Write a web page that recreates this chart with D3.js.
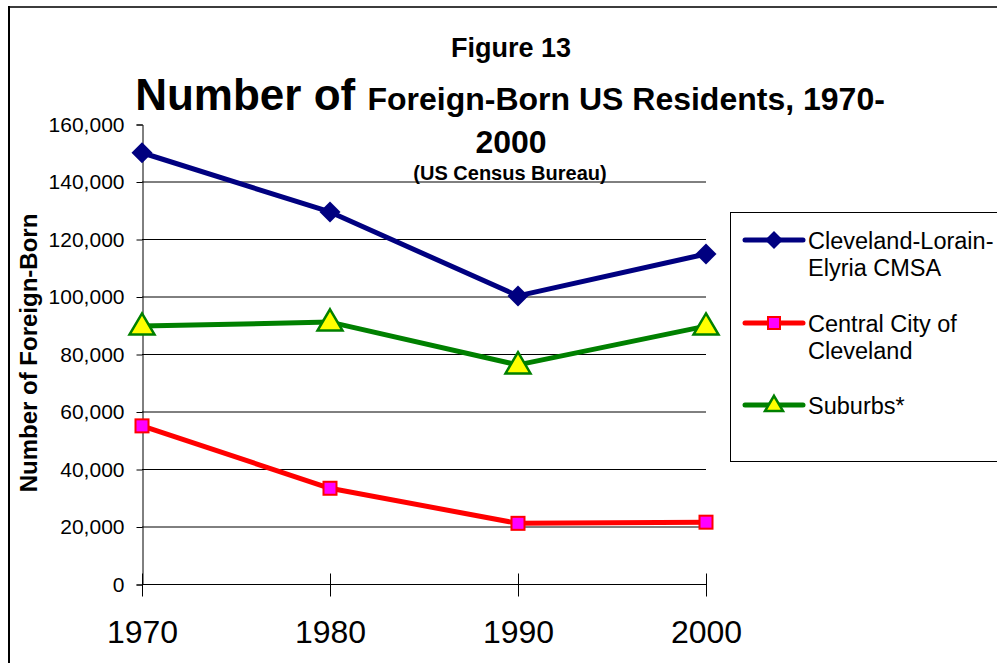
<!DOCTYPE html>
<html>
<head>
<meta charset="utf-8">
<script src="https://cdn.jsdelivr.net/npm/d3@7"></script>
<style>
  body { margin: 0; background: #fff; }
  text { font-family: Arial, "Liberation Sans", sans-serif; }
</style>
</head>
<body>
<div class="chart"></div>
<script>
const width = 997;
const height = 663;

// data
const years = [1970, 1980, 1990, 2000];
const cmsa = [150000, 129400, 100200, 114800];
const centralCity = [55000, 33300, 21100, 21500];
const suburbs = [89700, 91100, 76200, 89700];
const yTicks = [0, 20000, 40000, 60000, 80000, 100000, 120000, 140000, 160000];
const seriesNames = [["Cleveland-Lorain-", "Elyria CMSA"], ["Central City of", "Cleveland"], ["Suburbs*"]];

const plot = {left: 142, right: 706, top: 124, bottom: 584};

const svg = d3.select(".chart").append("svg")
    .attr("width", width)
    .attr("height", height);

// outer frame (only top and left edges show)
svg.append("line").attr("x1", 9).attr("x2", width).attr("y1", 7).attr("y2", 7)
    .attr("stroke", "#3c3c3c").attr("stroke-width", 2);
svg.append("line").attr("x1", 9).attr("x2", 9).attr("y1", 6).attr("y2", height)
    .attr("stroke", "#000").attr("stroke-width", 2);

const x = d3.scalePoint().domain(years).range([plot.left, plot.right]);
const y = d3.scaleLinear().domain([0, 160000]).range([plot.bottom, plot.top]);

// gridlines
svg.append("g").selectAll("line")
    .data(yTicks.filter(d => d > 0 && d < 160000))
    .enter().append("line")
    .attr("x1", plot.left).attr("x2", plot.right)
    .attr("y1", d => y(d) + 0.5).attr("y2", d => y(d) + 0.5)
    .attr("stroke", "#000").attr("stroke-width", 1);

// y axis
const yAxis = svg.append("g")
    .attr("transform", "translate(" + (plot.left + 0.5) + ",0.5)")
    .call(d3.axisLeft(y).tickValues(yTicks).tickFormat(d3.format(",")).tickSize(6).tickPadding(12));
yAxis.select(".domain").attr("stroke", "#000");
yAxis.selectAll("text").attr("font-size", 21).attr("fill", "#000")
    .attr("font-family", "Arial, 'Liberation Sans', sans-serif");

// x axis, cross tick marks
const xAxis = svg.append("g")
    .attr("transform", "translate(0," + (plot.bottom + 0.5) + ")")
    .call(d3.axisBottom(x).tickSizeInner(12).tickSizeOuter(0).tickPadding(24));
xAxis.select(".domain").attr("d", "M" + plot.left + ",0H" + plot.right).attr("stroke", "#000");
xAxis.selectAll(".tick line").attr("y1", -11).attr("stroke", "#000");
xAxis.selectAll("text").attr("font-size", 32).attr("fill", "#000")
    .attr("font-family", "Arial, 'Liberation Sans', sans-serif");

// lines + markers
const series = [
    {values: cmsa, color: "#000080", marker: "diamond"},
    {values: centralCity, color: "#ff0000", marker: "square"},
    {values: suburbs, color: "#008000", marker: "triangle"}
];

const line = d3.line().x(d => x(d.year)).y(d => y(d.value));

function drawMarker(g, type, size) {
    if (type === "diamond") {
        g.append("path").attr("d", d3.symbol(d3.symbolSquare, size * size * 0.5)())
            .attr("transform", "rotate(45)").attr("fill", "#000080");
    } else if (type === "square") {
        g.append("rect").attr("x", -size / 2 + 1).attr("y", -size / 2 + 1)
            .attr("width", size - 2).attr("height", size - 2)
            .attr("fill", "#ff00ff").attr("stroke", "#ff0000").attr("stroke-width", 2);
    } else {
        const h = size * 0.85;
        g.append("path").attr("d", "M0," + (-h * 0.6) + "L" + (size / 2) + "," + (h * 0.4) + "L" + (-size / 2) + "," + (h * 0.4) + "Z")
            .attr("fill", "#ffff00").attr("stroke", "#008000").attr("stroke-width", 2.5);
    }
}

series.forEach(function(s) {
    const pts = years.map((yr, i) => ({year: yr, value: s.values[i]}));
    svg.append("path").datum(pts)
        .attr("d", line)
        .attr("fill", "none")
        .attr("stroke", s.color)
        .attr("stroke-width", 5)
        .attr("stroke-linejoin", "round");
    pts.forEach(function(p) {
        const g = svg.append("g").attr("transform", "translate(" + x(p.year) + "," + y(p.value) + ")");
        drawMarker(g, s.marker, s.marker === "triangle" ? 25 : (s.marker === "square" ? 15 : 21));
    });
});

// titles
svg.append("text").attr("x", 511).attr("y", 57).attr("text-anchor", "middle")
    .attr("font-size", 27).attr("font-weight", "bold").text("Figure 13");

const t = svg.append("text").attr("x", 510).attr("y", 110).attr("text-anchor", "middle")
    .attr("font-weight", "bold");
t.append("tspan").attr("font-size", 44).text("Number of ");
t.append("tspan").attr("font-size", 32).text("Foreign-Born US Residents, 1970-");

svg.append("text").attr("x", 511).attr("y", 153).attr("text-anchor", "middle")
    .attr("font-size", 32).attr("font-weight", "bold").text("2000");

svg.append("text").attr("x", 510).attr("y", 180).attr("text-anchor", "middle")
    .attr("font-size", 20).attr("font-weight", "bold").text("(US Census Bureau)");

svg.append("text").attr("transform", "translate(37,353) rotate(-90)")
    .attr("text-anchor", "middle").attr("font-size", 24).attr("font-weight", "bold")
    .text("Number of Foreign-Born");

// legend
const legend = svg.append("g");
legend.append("rect").attr("x", 730.5).attr("y", 212.5).attr("width", 300).attr("height", 249)
    .attr("fill", "#fff").attr("stroke", "#000").attr("stroke-width", 1);

const legendY = [240, 323, 405];
series.forEach(function(s, i) {
    const g = legend.append("g").attr("transform", "translate(0," + legendY[i] + ")");
    g.append("line").attr("x1", 745).attr("x2", 803).attr("y1", 0).attr("y2", 0)
        .attr("stroke", s.color).attr("stroke-width", 5).attr("stroke-linecap", "round");
    const m = g.append("g").attr("transform", "translate(774,0)");
    drawMarker(m, s.marker, s.marker === "triangle" ? 18 : (s.marker === "square" ? 14 : 18));
    const txt = g.append("text").attr("x", 808).attr("y", 9).attr("font-size", 23.5).attr("fill", "#000");
    seriesNames[i].forEach(function(n, j) {
        txt.append("tspan").attr("x", 808).attr("dy", j === 0 ? 0 : 27).text(n);
    });
});
</script>
</body>
</html>
